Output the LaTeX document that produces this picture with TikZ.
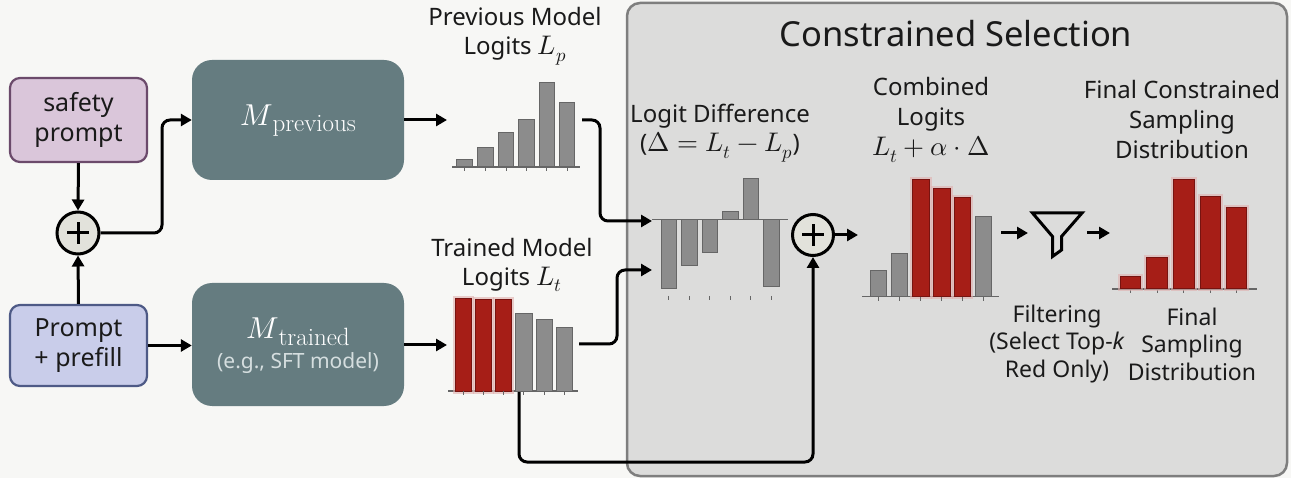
\documentclass[tikz,border=0pt]{standalone}
\usepackage{fontspec}
\usepackage{unicode-math}
\setmainfont{Noto Sans}
\setmathfont{Latin Modern Math}[Scale=1.12]
\newfontfamily\lmrfont{Latin Modern Roman}
\usetikzlibrary{arrows.meta}
\definecolor{bgc}{HTML}{F7F7F5}
\definecolor{panelc}{HTML}{DCDCDB}
\definecolor{paneld}{HTML}{7E7E7E}
\definecolor{safetyf}{HTML}{DAC6DA}
\definecolor{safetyd}{HTML}{6B4A6B}
\definecolor{promptf}{HTML}{C9CDEA}
\definecolor{promptd}{HTML}{4E5A86}
\definecolor{modelc}{HTML}{657C80}
\definecolor{plusc}{HTML}{E2E2DB}
\definecolor{grayf}{HTML}{8C8C8C}
\definecolor{grayd}{HTML}{666666}
\definecolor{redf}{HTML}{A61E17}
\definecolor{redd}{HTML}{771310}
\definecolor{txt}{HTML}{1A1A1A}
\definecolor{subt}{HTML}{D5DEDF}
\begin{document}
\begin{tikzpicture}[x=1pt,y=-1pt,
  conn/.style={line width=3pt,-{Triangle[length=11pt,width=12pt]},rounded corners=8pt},
  inbox/.style={draw,line width=2.2pt,rounded corners=10pt,align=center,font=\fontsize{25}{30}\selectfont,text=txt,minimum width=137pt},
  model/.style={fill=modelc,rounded corners=20pt,minimum width=212pt},
  mtext/.style={text=white,inner sep=0pt},
  plus/.style={circle,draw,line width=3pt,fill=plusc,minimum size=42pt,inner sep=0pt},
  lbl/.style={align=center,font=\fontsize{24}{29}\selectfont,text=txt},
  graybar/.style={fill=grayf,draw=grayd,line width=1pt},
  redbar/.style={fill=redf,draw=redd,line width=1pt},
  glow/.style={draw=redf!35,line width=5pt,opacity=0.6},
  axisl/.style={draw=grayd,line width=1.2pt},
  tick/.style={draw=grayd,line width=1pt}]
\useasboundingbox (0,0) rectangle (1291,478);
\fill[bgc] (0,0) rectangle (1291,478);
% panel
\draw[fill=panelc,draw=paneld,line width=2.5pt,rounded corners=13pt] (627,3) rectangle (1287,476);
\node[font=\fontsize{34.5}{40}\selectfont,text=txt] (title) at (956,34) {Constrained Selection};
% inputs
\node[inbox,fill=safetyf,draw=safetyd,minimum height=84pt] (safety) at (78.5,120) {safety\\prompt};
\node[inbox,fill=promptf,draw=promptd,minimum height=81pt] (prompt) at (78.5,345.5) {Prompt\\+ prefill};
\node[plus] (plus1) at (78,233) {};
\draw[line width=3pt] ([xshift=-11pt]plus1.center) -- ([xshift=11pt]plus1.center) ([yshift=-11pt]plus1.center) -- ([yshift=11pt]plus1.center);
% models
\node[model,minimum height=120pt] (mprev) at (298,120) {};
\node[mtext,anchor=base] (mprevtxt) at (298,126) {{\fontsize{27}{30}\selectfont$M$}\raisebox{-6pt}{\fontsize{25}{28}\selectfont\lmrfont previous}};
\node[model,minimum height=123pt] (mtrain) at (298,344.5) {};
\node[mtext,anchor=base] (mtraintxt) at (298,339) {{\fontsize{27}{30}\selectfont$M$}\raisebox{-6pt}{\fontsize{25}{28}\selectfont\lmrfont trained}};
\node[mtext,anchor=base,text=subt,font=\fontsize{21}{26}\selectfont] (mtrainsub) at (298,369) {(e.g., SFT model)};
% connector coordinates
\coordinate (lpin) at (447,120);
\coordinate (ltin) at (447,345);
\coordinate (lpout) at (582,120);
\coordinate (ltout) at (579,344);
\coordinate (ltbot) at (519,392);
\coordinate (dpin) at (652,221);
\coordinate (dtin) at (652,270);
\coordinate (cin) at (858,235);
\coordinate (cout) at (1001,233);
\coordinate (fin) at (1028,233);
\coordinate (fout) at (1087,233);
\coordinate (sin) at (1110,233);
% labels
\node[lbl] (lplbl) at (515,36) {Previous Model\\Logits $L_p$};
\node[lbl] (ltlbl) at (512,265) {Trained Model\\Logits $L_t$};
\node[lbl] (dlbl) at (720,133) {Logit Difference\\($\Delta = L_t - L_p$)};
\node[lbl,font=\fontsize{24}{30}\selectfont] (clbl) at (931,120) {Combined\\Logits\\$L_t + \alpha\cdot\Delta$};
\node[lbl,font=\fontsize{24}{30}\selectfont] (flbl) at (1182,120) {Final Constrained\\Sampling\\Distribution};
\node[lbl,font=\fontsize{23}{27.5}\selectfont] (filtlbl) at (1057,344) {Filtering\\(Select Top-\textit{k}\\Red Only)};
\node[lbl,font=\fontsize{23}{27.5}\selectfont] (finlbl) at (1192,344) {Final\\Sampling\\Distribution};
% previous chart
\draw[axisl] (452,167) -- (580,167);
\foreach \x/\t in {456.7/159.3,477.7/147.3,498.3/132.7,518.7/120,539/82.3,559.3/102.3}{
  \draw[graybar] (\x,\t) rectangle (\x+15.5,167);
  \draw[tick] (\x+7.75,167) -- (\x+7.75,171);}
% trained chart
\draw[axisl] (448,391) -- (578,391);
\foreach \x/\t in {455/299,475/300,495/300}{
  \draw[glow] (\x,\t) rectangle (\x+16.5,391);}
\foreach \x/\t in {455/299,475/300,495/300}{
  \draw[redbar] (\x,\t) rectangle (\x+16.5,391);}
\foreach \x/\t in {515.7/313.3,536/319.3,556/327.7}{
  \draw[graybar] (\x,\t) rectangle (\x+16.5,391);}
\foreach \x in {455,475,495,515.7,536,556}{
  \draw[tick] (\x+8.25,391) -- (\x+8.25,395);}
% difference chart
\draw[axisl] (652,219.3) -- (788,219.3);
\foreach \x/\t in {661/289,681.7/265.3,702/252.7,722.7/212,743/178.7,763.7/286.7}{
  \draw[graybar] (\x,219.3) rectangle (\x+15.7,\t);
  \draw[tick] (\x+7.85,296) -- (\x+7.85,300);}
% combined chart
\draw[axisl] (862,296.7) -- (999,296.7);
\foreach \x/\t in {912.3/179.3,933.3/189,954/197.7}{
  \draw[glow] (\x,\t) rectangle (\x+16.7,296.7);}
\foreach \x/\t in {870/270.7,891/253.3,975/216.7}{
  \draw[graybar] (\x,\t) rectangle (\x+16.7,296.7);}
\foreach \x/\t in {912.3/179.3,933.3/189,954/197.7}{
  \draw[redbar] (\x,\t) rectangle (\x+16.7,296.7);}
\foreach \x in {870,891,912.3,933.3,954,975}{
  \draw[tick] (\x+8.35,296.7) -- (\x+8.35,300.7);}
% final chart
\draw[axisl] (1112,289) -- (1257,289);
\foreach \x in {1120,1146.7,1173.3,1200,1226}{
  \draw[tick] (\x+10.35,289) -- (\x+10.35,293);}
\foreach \x/\t in {1120/276.7,1146.7/257.3,1173.3/179.3,1200/196.7,1226/207.7}{
  \draw[glow] (\x,\t) rectangle (\x+20.7,289);}
\foreach \x/\t in {1120/276.7,1146.7/257.3,1173.3/179.3,1200/196.7,1226/207.7}{
  \draw[redbar] (\x,\t) rectangle (\x+20.7,289);}
% plus 2
\node[plus,minimum size=41pt] (plus2) at (813,235) {};
\draw[line width=3pt] ([xshift=-11pt]plus2.center) -- ([xshift=11pt]plus2.center) ([yshift=-11pt]plus2.center) -- ([yshift=11pt]plus2.center);
% funnel
\coordinate (funnel) at (1057,233);
\draw[line width=3pt,line join=miter,fill=panelc] (1032.5,213) -- (1082,213) -- (1061.5,236.5) -- (1061.5,250) -- (1052.5,256.5) -- (1052.5,236.5) -- cycle;
% connectors
\draw[conn] (safety.south) -- (plus1.north);
\draw[conn] (prompt.north) -- (plus1.south);
\draw[conn] (plus1.east) -- (162,233) -- (162,120) -- (mprev.west);
\draw[conn] (prompt.east) -- (mtrain.west |- prompt.east);
\draw[conn] (mprev.east) -- (lpin);
\draw[conn] (mtrain.east |- ltin) -- (ltin);
\draw[conn] (lpout) -- (600,120) -- (600,221) -- (dpin);
\draw[conn] (ltout) -- (617,344) -- (617,270) -- (dtin);
\draw[conn] (ltbot) -- (519,462) -- (813,462) -- (plus2.south);
\draw[conn] (plus2.east) -- (cin);
\draw[conn] (cout) -- (fin);
\draw[conn] (fout) -- (sin);
\end{tikzpicture}
\end{document}
